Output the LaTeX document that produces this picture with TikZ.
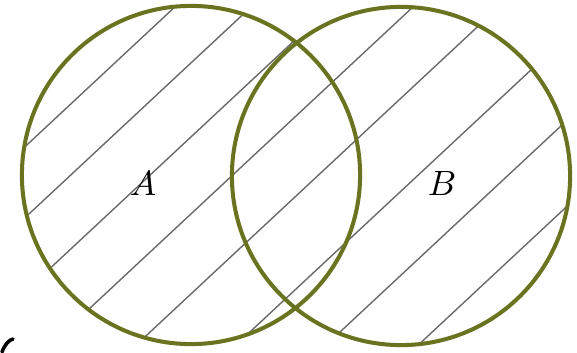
\documentclass[tikz,border=0pt]{standalone}
\usepackage{xcolor}
\usepackage{tikz}
\usetikzlibrary{positioning}
\definecolor{vnolive}{HTML}{6A7420}
\definecolor{vngray}{HTML}{6A6A6A}

\begin{document}
\begin{tikzpicture}[
  x=0.01cm, y=-0.01cm,
  setcircle/.style={draw=vnolive, line width=1.15pt},
  hatch/.style={draw=vngray, line width=0.4pt},
  setlabel/.style={font=\normalsize, inner sep=0pt},
]
\useasboundingbox (0,0) rectangle (577,352);

\coordinate (ca) at (191,175);
\coordinate (cb) at (401,176);

% Hatching
\begin{scope}
  \clip (ca) circle [radius=1.69cm] (cb) circle [radius=1.69cm];
  \foreach \c in {170,241,315,392,472,565,649,735}
    \draw[hatch] (0,\c) -- (577,\c-538);
\end{scope}

% Sets
\draw[setcircle] (ca) circle [radius=1.69cm];
\draw[setcircle] (cb) circle [radius=1.69cm];

\node[setlabel] (la) at (143,183) {$A$};
\node[setlabel] (lb) at (442,183) {$B$};

\draw[line width=1pt, line cap=round] (2,352) .. controls (5,344) and (9,340) .. (13,339);

\end{tikzpicture}
\end{document}
